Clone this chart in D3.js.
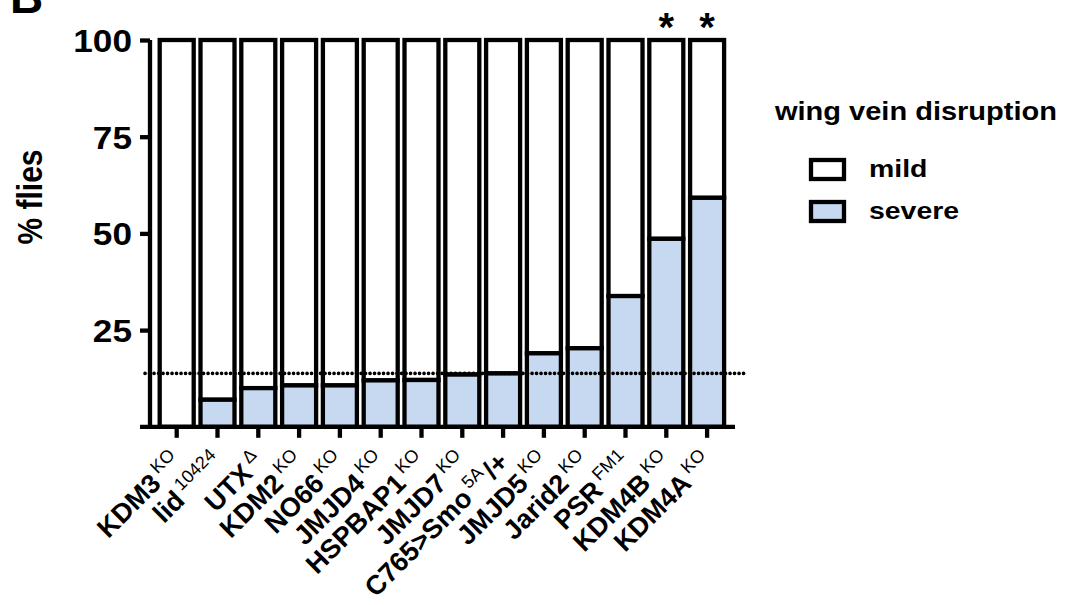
<!DOCTYPE html>
<html><head><meta charset="utf-8">
<script src="https://cdn.jsdelivr.net/npm/d3@7"></script>
<style>body{margin:0;background:#fff}svg{display:block}text{font-family:Arial,"Liberation Sans",sans-serif}</style>
</head><body><svg id="c" width="1069" height="605"></svg>
<script>
// categories: [main (bold), superscript, trailing bold]
const categories = ["KDM3","lid","UTX","KDM2","NO66","JMJD4","HSPBAP1","JMJD7","C765>Smo","JMJD5","Jarid2","PSR","KDM4B","KDM4A"];
const superscripts = ["KO","10424","Δ","KO","KO","KO","KO","KO","5A","KO","KO","FM1","KO","KO"];
const trailing = ["","","","","","","","","/+","","","","",""];
const severe = [0, 7, 10, 10.7, 10.7, 12, 12.1, 13.5, 13.8, 19, 20.3, 33.8, 48.6, 59.2];
const mild = severe.map(v => 100 - v);
const yTicks = [25, 50, 75, 100];
const threshold = 13.8;
const significant = ["KDM4B","KDM4A"];
const legendItems = ["mild","severe"];
const colors = {mild:"#ffffff", severe:"#c6d9f0"};

const svg = d3.select("#c");
const y = d3.scaleLinear().domain([0,100]).range([426.8, 40]);
const x = d3.scaleBand().domain(categories).range([156.3, 727.5]).paddingInner(0.08).paddingOuter(0.04);
function stretch(sel, f){ sel.each(function(){ const w=this.getComputedTextLength(); d3.select(this).attr("textLength", w*f).attr("lengthAdjust","spacingAndGlyphs"); }); }

// bars
const g = svg.append("g");
categories.forEach((c,i)=>{
  const bx = x(c) + x.bandwidth()/2 - 17;
  g.append("rect").attr("x",bx).attr("width",34).attr("y",y(100)).attr("height",y(severe[i])-y(100))
    .attr("fill",colors.mild).attr("stroke","#000").attr("stroke-width",4.3);
  if (severe[i] > 0)
    g.append("rect").attr("x",bx).attr("width",34).attr("y",y(severe[i])).attr("height",y(0)-y(severe[i]))
      .attr("fill",colors.severe).attr("stroke","#000").attr("stroke-width",4.3);
});

// axes
const yAxis = svg.append("g").attr("transform","translate(150,0)")
  .call(d3.axisLeft(y).tickValues(yTicks).tickSize(10).tickFormat(d3.format("d")));
yAxis.select(".domain").attr("d",`M0,${y(100)}V${y(0)}`).attr("stroke","#000").attr("stroke-width",4.3);
yAxis.selectAll(".tick line").attr("stroke","#000").attr("stroke-width",4.3);
yAxis.selectAll(".tick text").attr("x",-18).attr("dy","0.36em").attr("font-size",32).attr("font-weight","bold").attr("fill","#000");
stretch(yAxis.selectAll(".tick text"), 1.1);

const xAxis = svg.append("g").attr("transform",`translate(0,${y(0)})`)
  .call(d3.axisBottom(x).tickSize(11).tickFormat(""));
xAxis.select(".domain").attr("d","M140,0H735").attr("stroke","#000").attr("stroke-width",4.3);
xAxis.selectAll(".tick line").attr("stroke","#000").attr("stroke-width",4.3);

// x labels
categories.forEach((c,i)=>{
  const cx = x(c) + x.bandwidth()/2;
  const t = svg.append("text").attr("transform",`translate(${cx+7},${y(0)+37}) rotate(-45)`)
    .attr("text-anchor","end").attr("fill","#000");
  t.append("tspan").attr("font-weight","bold").attr("font-size",27).text(c);
  t.append("tspan").attr("font-size",18).attr("dy",-11).attr("dx",4).text(superscripts[i]);
  if (trailing[i]) t.append("tspan").attr("font-weight","bold").attr("font-size",27).attr("dy",11).attr("dx",2).text(trailing[i]);
});

// dotted threshold line
svg.append("line").attr("x1",145).attr("x2",748).attr("y1",y(threshold)).attr("y2",y(threshold))
  .attr("stroke","#000").attr("stroke-width",3.6).attr("stroke-linecap","round").attr("stroke-dasharray","0.1 4.4");

// asterisks
significant.forEach(c=>{
  svg.append("text").attr("x",x(c)+x.bandwidth()/2).attr("y",41).attr("text-anchor","middle")
    .attr("font-size",40).attr("font-weight","bold").text("*");
});

// y label
svg.append("text").attr("transform","translate(42,197) scale(1.15,1) rotate(-90)").attr("text-anchor","middle")
  .attr("font-size",30).attr("font-weight","bold").text("% flies");

// panel letter (partly cut off at the top, as in the reference)
svg.append("text").attr("x",10).attr("y",13).attr("font-size",46).attr("font-weight","bold").text("B");

// legend
const lt = svg.append("text").attr("x",775).attr("y",120).attr("font-size",25).attr("font-weight","bold").text("wing vein disruption");
stretch(lt, 1.16);
legendItems.forEach((k,i)=>{
  const yy = 160 + i*42;
  svg.append("rect").attr("x",811).attr("y",yy).attr("width",33).attr("height",19)
    .attr("fill",colors[k]).attr("stroke","#000").attr("stroke-width",4.3);
  const tt = svg.append("text").attr("x",869).attr("y",yy+17).attr("font-size",24.5).attr("font-weight","bold").text(k);
  stretch(tt, 1.16);
});
</script></body></html>
